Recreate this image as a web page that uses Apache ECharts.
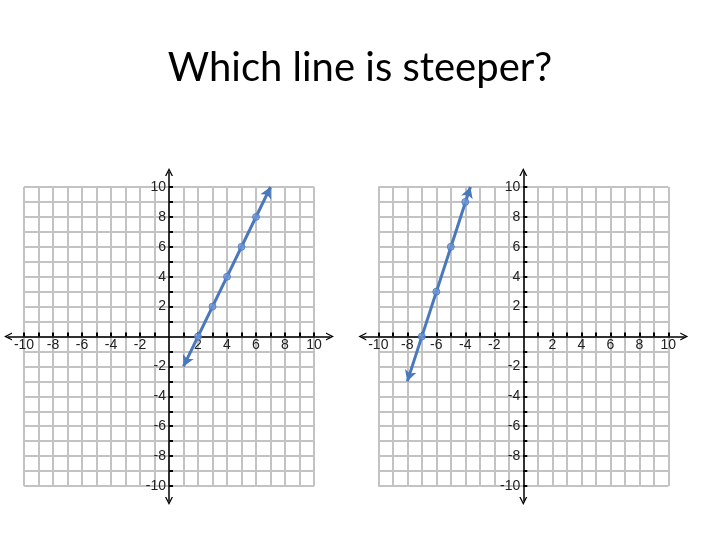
<!DOCTYPE html>
<html>
<head>
<meta charset="utf-8">
<style>html,body{margin:0;padding:0;background:#fff;}#c{width:720px;height:540px;}</style>
<script src="https://cdn.jsdelivr.net/npm/echarts@6/dist/echarts.min.js"></script>
</head>
<body>
<div id="c"></div>
<script>
// ---- data ----
var titleText = 'Which line is steeper?';
var tickLabelValues = [-10, -8, -6, -4, -2, 2, 4, 6, 8, 10];
var tickValues = [-10,-9,-8,-7,-6,-5,-4,-3,-2,-1,1,2,3,4,5,6,7,8,9,10];
// left line: y = 2x - 4
var leftX = [1, 2, 3, 4, 5, 6, 7];
var leftY = [-2, 0, 2, 4, 6, 8, 10];
// right line: y = 3x + 21
var rightX = [-8, -7, -6, -5, -4, -3.65];
var rightY = [-3, 0, 3, 6, 9, 10];

// ---- layout ----
var lineColor = '#4a78bd';
var gridColor = '#c3c3c3';
var panels = [
  {left: 24, top: 187, width: 290, height: 299},
  {left: 378.3, top: 187, width: 290, height: 299}
];
var extX = 1.1, extY = 1.0;

var grids = [], xAxes = [], yAxes = [], series = [];
var arrowPath = 'path://M0,10 L5,0 L10,10 L8.3,10 L5,3.4 L1.7,10 Z';

function pairs(xs, ys) { return xs.map(function (x, i) { return [x, ys[i]]; }); }

function axisB(dim, grid, ext, offset, margin) {
  return {
    type: 'value', gridIndex: grid, min: -10 - ext, max: 10 + ext,
    position: dim === 'x' ? 'bottom' : 'left', offset: offset,
    axisLine: {show: true, onZero: false, lineStyle: {color: '#000', width: 1.5},
               symbol: [arrowPath, arrowPath], symbolSize: [9, 8]},
    axisTick: {show: true, inside: true, length: 4, customValues: tickValues,
               lineStyle: {color: '#000', width: 2}},
    axisLabel: {show: true, customValues: tickLabelValues, color: '#222', margin: margin,
                fontFamily: 'Liberation Sans, Arial, sans-serif', fontSize: 14},
    splitLine: {show: false}
  };
}

panels.forEach(function (p, k) {
  var ux = p.width / 20, uy = p.height / 20;
  var bw = p.width + 2 * extX * ux, bh = p.height + 2 * extY * uy;
  grids.push({left: p.left, top: p.top, width: p.width, height: p.height, containLabel: false});
  grids.push({left: p.left - extX * ux, top: p.top - extY * uy, width: bw, height: bh, containLabel: false});
  var gA = 2 * k, gB = 2 * k + 1;
  var gridAxis = {type: 'value', min: -10, max: 10, interval: 1,
    axisLine: {show: false}, axisTick: {show: false}, axisLabel: {show: false},
    splitLine: {show: true, lineStyle: {color: gridColor, width: 2}}};
  xAxes.push(Object.assign({gridIndex: gA}, gridAxis));
  yAxes.push(Object.assign({gridIndex: gA}, gridAxis));
  xAxes.push(axisB('x', gB, extX, -bh / 2, 2));
  yAxes.push(axisB('y', gB, extY, -bw / 2, 3));

  var xs = k === 0 ? leftX : rightX, ys = k === 0 ? leftY : rightY;
  var pts = pairs(xs, ys);
  series.push({
    type: 'scatter', xAxisIndex: gB, yAxisIndex: gB,
    data: pts.slice(1, pts.length - 1),
    symbol: 'circle', symbolSize: 7, z: 5,
    itemStyle: {color: '#6a96d8', borderColor: lineColor, borderWidth: 1},
    markLine: {
      silent: true, symbol: ['arrow', 'arrow'], symbolSize: [9, 11],
      label: {show: false},
      lineStyle: {color: lineColor, width: 3, type: 'solid'},
      data: [[{coord: pts[0]}, {coord: pts[pts.length - 1]}]]
    }
  });
});

var chart = echarts.init(document.getElementById('c'));
chart.setOption({
  animation: false,
  backgroundColor: '#fff',
  title: {text: titleText, left: 'center', top: 43,
    textStyle: {fontFamily: 'Lato, "Open Sans", sans-serif', fontSize: 40, fontWeight: 'normal', color: '#000'}},
  grid: grids, xAxis: xAxes, yAxis: yAxes, series: series
});
</script>
</body>
</html>
